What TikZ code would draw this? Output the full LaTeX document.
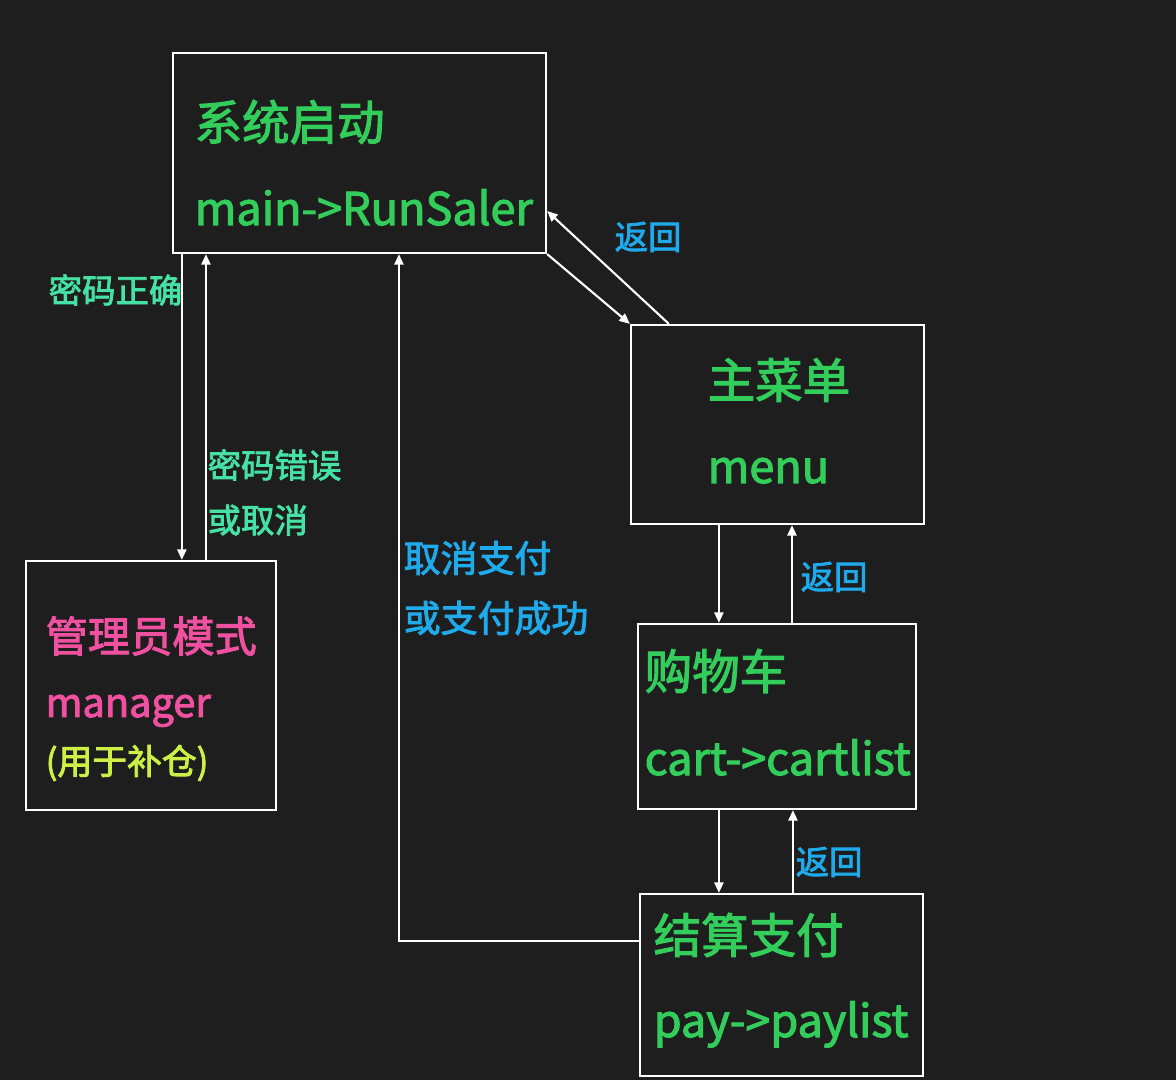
\documentclass[tikz,border=0pt]{standalone}
\usepackage{fontspec}
\setmainfont{Noto Sans CJK SC}[BoldFont=Noto Sans CJK SC, BoldFeatures={FakeBold=2.4}]
\usetikzlibrary{arrows.meta,positioning,calc}

\definecolor{bgdark}{RGB}{30,30,30}
\definecolor{titlegreen}{RGB}{50,205,90}
\definecolor{labelteal}{RGB}{70,225,165}
\definecolor{labelblue}{RGB}{30,170,235}
\definecolor{mgrpink}{RGB}{240,80,160}
\definecolor{noteyellow}{RGB}{205,240,70}

\tikzset{
  stagebox/.style={draw=white, line width=0.6pt, fill=bgdark, inner sep=0pt},
  bigtext/.style={font=\fontsize{13.5}{16}\selectfont\bfseries, text=titlegreen, inner sep=0pt},
  codetext/.style={font=\fontsize{12.8}{15}\selectfont\bfseries, text=titlegreen, inner sep=0pt, anchor=base west},
  lbl/.style={font=\fontsize{9.5}{11}\selectfont\bfseries, anchor=west, inner sep=0pt},
  flow/.style={draw=white, line width=0.6pt, -{Triangle[length=3pt,width=2.6pt]}}
}

\begin{document}
\begin{tikzpicture}[x=0.01cm,y=-0.01cm]
\fill[bgdark] (0,0) rectangle (1176,1080);
\useasboundingbox (0,0) rectangle (1176,1080);

% boxes
\node[stagebox, minimum width=3.73cm, minimum height=2.00cm] (sys) at (359.5,153) {};
\node[stagebox, minimum width=2.93cm, minimum height=1.99cm] (menu) at (777.5,424.5) {};
\node[stagebox, minimum width=2.50cm, minimum height=2.49cm] (mgr) at (151,685.5) {};
\node[stagebox, minimum width=2.78cm, minimum height=1.85cm] (cart) at (777,716.5) {};
\node[stagebox, minimum width=2.83cm, minimum height=1.82cm] (pay) at (781.5,985) {};

% box texts
\node[bigtext, anchor=west] (systitle) at (194,122) {系统启动};
\node[codetext] (sysfunc) at (194,225) {main->RunSaler};
\node[bigtext, anchor=west] (menutitle) at (707,380) {主菜单};
\node[codetext] (menufunc) at (707,483) {menu};
\node[bigtext, anchor=west, font=\fontsize{12}{14}\selectfont\bfseries, text=mgrpink] (mgrtitle) at (45,636) {管理员模式};
\node[codetext, font=\fontsize{11.3}{14}\selectfont\bfseries, text=mgrpink] (mgrfunc) at (45,717) {manager};
\node[lbl, font=\fontsize{9.9}{12}\selectfont\bfseries, text=noteyellow] (mgrnote) at (45,763) {(用于补仓)};
\node[bigtext, anchor=west] (carttitle) at (644,671) {购物车};
\node[codetext] (cartfunc) at (644,775) {cart->cartlist};
\node[bigtext, anchor=west] (paytitle) at (653,935) {结算支付};
\node[codetext] (payfunc) at (653,1037) {pay->paylist};

% connectors
\draw[flow] ([xshift=0.10cm]sys.south west) -- ([xshift=0.10cm]sys.south west |- mgr.north);
\draw[flow] ([xshift=1.81cm]mgr.north west) -- ([xshift=1.81cm]mgr.north west |- sys.south);
\draw[flow] ([yshift=0.44cm]pay.west) -| ([xshift=2.27cm]sys.south west);
\draw[flow] (sys.south east) -- (menu.north west);
\draw[flow] ([xshift=0.39cm]menu.north west) -- ([yshift=-0.58cm]sys.east);
\draw[flow] ([xshift=0.89cm]menu.south west) -- ([xshift=0.89cm]menu.south west |- cart.north);
\draw[flow] ([xshift=1.55cm]cart.north west) -- ([xshift=1.55cm]cart.north west |- menu.south);
\draw[flow] ([xshift=0.82cm]cart.south west) -- ([xshift=0.82cm]cart.south west |- pay.north);
\draw[flow] ([xshift=1.54cm]pay.north west) -- ([xshift=1.54cm]pay.north west |- cart.south);

% connector labels
\node[lbl, text=labelblue] (backsys) at (614,237) {返回};
\node[lbl, text=labelteal] (pwok) at (48,290) {密码正确};
\node[lbl, text=labelteal] (pwbad) at (207,465) {密码错误};
\node[lbl, text=labelteal] (pwcancel) at (207,520) {或取消};
\node[lbl, font=\fontsize{10.5}{12}\selectfont\bfseries, text=labelblue] (paycancel) at (403,558) {取消支付};
\node[lbl, font=\fontsize{10.5}{12}\selectfont\bfseries, text=labelblue] (payok) at (403,618) {或支付成功};
\node[lbl, text=labelblue] (backmenu) at (800,577) {返回};
\node[lbl, text=labelblue] (backcart) at (795,862) {返回};
\end{tikzpicture}
\end{document}
